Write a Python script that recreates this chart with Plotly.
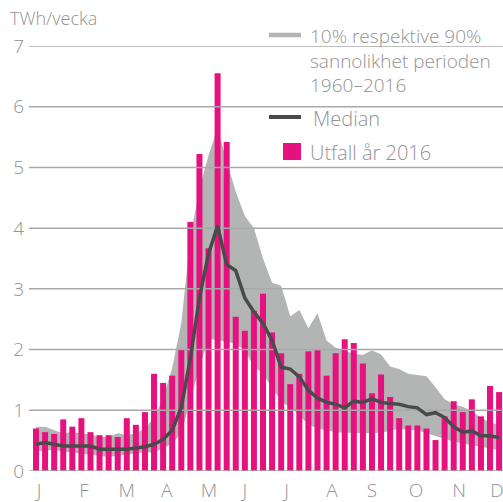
import plotly.graph_objects as go

# ---------------- data ----------------
weeks = list(range(1, 53))

utfall_2016 = [0.70, 0.64, 0.61, 0.85, 0.73, 0.87, 0.64, 0.59, 0.59, 0.56,
               0.87, 0.76, 0.97, 1.60, 1.45, 1.57, 2.00, 4.10, 5.22, 3.67,
               6.55, 5.42, 2.54, 2.31, 2.64, 2.92, 2.28, 1.94, 1.43, 1.60,
               1.97, 1.99, 1.57, 1.94, 2.17, 2.11, 1.77, 1.28, 1.59, 1.22,
               0.87, 0.75, 0.75, 0.70, 0.51, 0.90, 1.15, 0.97, 1.18, 0.90,
               1.40, 1.30]

median = [0.44, 0.47, 0.44, 0.41, 0.41, 0.41, 0.41, 0.36, 0.36, 0.36,
          0.36, 0.38, 0.40, 0.44, 0.52, 0.67, 1.05, 1.85, 2.85, 3.58,
          4.04, 3.40, 3.30, 2.85, 2.62, 2.43, 2.15, 1.71, 1.68, 1.55,
          1.33, 1.20, 1.13, 1.10, 1.04, 1.15, 1.13, 1.19, 1.13, 1.11,
          1.10, 1.06, 1.04, 0.93, 0.96, 0.88, 0.73, 0.64, 0.66, 0.58,
          0.58, 0.55]

p90 = [0.73, 0.73, 0.67, 0.62, 0.64, 0.62, 0.60, 0.56, 0.56, 0.62,
       0.59, 0.62, 0.70, 0.88, 1.20, 1.70, 2.43, 3.85, 4.65, 5.20,
       5.65, 5.10, 4.60, 4.20, 4.00, 3.50, 3.10, 3.05, 2.55, 2.65,
       2.35, 2.60, 2.15, 2.03, 1.98, 1.93, 1.91, 1.99, 1.92, 1.72,
       1.68, 1.60, 1.58, 1.56, 1.38, 1.18, 1.10, 1.06, 0.98, 0.88,
       0.80, 0.76]

p10 = [0.31, 0.34, 0.34, 0.32, 0.30, 0.29, 0.27, 0.25, 0.23, 0.25,
       0.27, 0.29, 0.31, 0.30, 0.38, 0.45, 0.62, 1.15, 1.70, 2.18,
       2.15, 2.13, 2.10, 1.98, 1.72, 1.60, 1.38, 1.14, 1.05, 0.92,
       0.76, 0.70, 0.67, 0.64, 0.63, 0.62, 0.62, 0.62, 0.63, 0.66,
       0.70, 0.67, 0.67, 0.62, 0.58, 0.53, 0.48, 0.45, 0.42, 0.39,
       0.37, 0.34]

month_labels = ["J", "F", "M", "A", "M", "J", "J", "A", "S", "O", "N", "D"]
month_ticks = [1.33, 6.3, 11.0, 15.4, 20.05, 24.0, 28.6, 33.6, 38.0, 42.85, 47.6, 51.75]
y_ticks = [0, 1, 2, 3, 4, 5, 6, 7]

legend_band = "10% respektive 90%<br>sannolikhet perioden<br>1960–2016"
legend_median = "Median"
legend_bars = "Utfall år 2016"
y_title = "TWh/vecka"

# ---------------- style ----------------
W, H = 503, 502
ML, MR, MT, MB = 29, 0, 46, 31
X_RANGE = [0.23, 52.43]
Y_RANGE = [0, 7]
PINK = "#e6117f"
BAND = "#b3b5b5"
DARK = "#4a4a4a"
GRID = "#a8a8a8"
TXT = "#939393"
FONT = "Open Sans"

pw, ph = W - ML - MR, H - MT - MB


def px(x):
    return (x - ML) / pw


def py(y):
    return (H - MB - y) / ph


fig = go.Figure()

# band (10% / 90%)
fig.add_trace(go.Scatter(x=weeks, y=p10, mode="lines", line=dict(width=0, color=BAND),
                         hoverinfo="skip", showlegend=False, zorder=0))
fig.add_trace(go.Scatter(x=weeks, y=p90, mode="lines", line=dict(width=0, color=BAND),
                         fill="tonexty", fillcolor=BAND, showlegend=False, zorder=0))

# bars 2016
fig.add_trace(go.Bar(x=weeks, y=utfall_2016, width=0.66, marker=dict(color=PINK, line=dict(width=0)),
                     showlegend=False, zorder=1))

# gridlines above bars
gx, gy = [], []
for v in y_ticks:
    gx += [X_RANGE[0], X_RANGE[1], None]
    gy += [v, v, None]
fig.add_trace(go.Scatter(x=gx, y=gy, mode="lines", line=dict(color=GRID, width=1.5),
                         hoverinfo="skip", showlegend=False, zorder=2))

# median
fig.add_trace(go.Scatter(x=weeks, y=median, mode="lines", line=dict(color=DARK, width=3.5),
                         showlegend=False, zorder=3))

fig.update_layout(
    width=W, height=H,
    margin=dict(l=ML, r=MR, t=MT, b=MB, autoexpand=False),
    paper_bgcolor="white", plot_bgcolor="white",
    font=dict(family=FONT, color=TXT, size=18, weight=300),
    bargap=0.3,
    xaxis=dict(range=X_RANGE, tickmode="array", tickvals=month_ticks, ticktext=month_labels,
               showgrid=False, zeroline=False, showline=False, ticks="",
               tickfont=dict(family=FONT, size=19, color=TXT, weight=300),
               ticklabelstandoff=6, automargin=False, ticklabeloverflow="allow"),
    yaxis=dict(range=Y_RANGE, tickmode="array", tickvals=y_ticks, showgrid=False,
               zeroline=False, showline=False, ticks="",
               tickfont=dict(family=FONT, size=19, color=TXT, weight=300),
               ticklabelstandoff=4, automargin=False),
)

annotations = [
    dict(text=y_title, x=px(8), y=py(18), xanchor="left", yanchor="middle",
         font=dict(size=18)),
    dict(text=legend_band, x=px(308), y=py(60), xanchor="left", yanchor="middle",
         align="left", font=dict(size=19)),
    dict(text=legend_median, x=px(311), y=py(118), xanchor="left", yanchor="middle",
         font=dict(size=20)),
    dict(text=legend_bars, x=px(308), y=py(152), xanchor="left", yanchor="middle",
         font=dict(size=20)),
]
for a in annotations:
    a.update(xref="paper", yref="paper", showarrow=False)
fig.update_layout(annotations=annotations)

shapes = [
    dict(type="line", x0=px(269), x1=px(301), y0=py(35), y1=py(35),
         line=dict(color=BAND, width=4.5)),
    dict(type="line", x0=px(269), x1=px(301), y0=py(117), y1=py(117),
         line=dict(color=DARK, width=4)),
    dict(type="rect", x0=px(283), x1=px(301), y0=py(160), y1=py(143),
         fillcolor=PINK, line=dict(width=0)),
]
for s in shapes:
    s.update(xref="paper", yref="paper")
fig.update_layout(shapes=shapes)

fig.write_html("out.html", config={"displayModeBar": False},
               post_script="document.body.style.margin='0';document.body.style.padding='0';")
